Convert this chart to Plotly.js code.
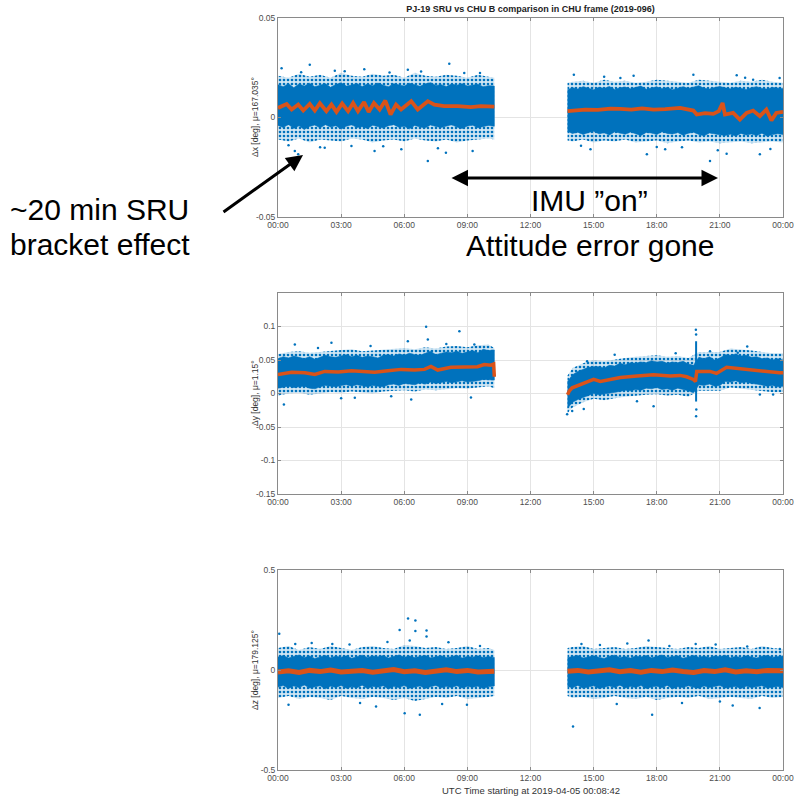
<!DOCTYPE html>
<html><head><meta charset="utf-8">
<script src="https://cdn.plot.ly/plotly-3.0.1.min.js"></script>
<style>html,body{margin:0;padding:0;background:#fff}</style>
</head><body><div id="chart" style="width:794px;height:797px"></div>
<script>
// ---------- axis ticks ----------
const hourTicks = [0,3,6,9,12,15,18,21,24];
const hourLabels = ['00:00','03:00','06:00','09:00','12:00','15:00','18:00','21:00','00:00'];
const yTicksX = [-0.05,0,0.05], yLabelsX = ['-0.05','0','0.05'];
const yTicksY = [-0.15,-0.1,-0.05,0,0.05,0.1], yLabelsY = ['-0.15','-0.1','-0.05','0','0.05','0.1'];
const yTicksZ = [-0.5,0,0.5], yLabelsZ = ['-0.5','0','0.5'];

// ---------- sample times (hours since start) ----------
const tA = [0,0.25,0.5,0.75,1,1.25,1.5,1.75,2,2.25,2.5,2.75,3,3.25,3.5,3.75,4,4.25,4.5,4.75,5,5.25,5.5,5.75,6,6.25,6.5,6.75,7,7.25,7.5,7.75,8,8.25,8.5,8.75,9,9.25,9.5,9.75,10,10.28];
const tB = [13.76,14,14.25,14.5,14.75,15,15.25,15.5,15.75,16,16.25,16.5,16.75,17,17.25,17.5,17.75,18,18.25,18.5,18.75,19,19.25,19.5,19.75,20,20.25,20.5,20.75,21,21.25,21.5,21.75,22,22.25,22.5,22.75,23,23.25,23.5,23.75,24];
const tAc = [0,0.5,1,1.5,2,2.5,3,3.5,4,4.5,5,5.5,6,6.5,7,7.5,8,8.5,9,9.5,10,10.28];
const tBc = [13.76,14,14.5,15,15.5,16,16.5,17,17.5,18,18.5,19,19.5,20,20.5,21,21.5,22,22.5,23,23.5,24];

// ---------- Δx panel ----------
const xCoreUpA = [0.0165,0.0155,0.017,0.0150,0.0168,0.0158,0.0172,0.0155,0.0162,0.0170,0.0152,0.0166,0.0174,0.0158,0.0163,0.0171,0.0156,0.0168,0.0160,0.0173,0.0162,0.0155,0.0170,0.0164,0.0158,0.0172,0.0166,0.0157,0.0169,0.0175,0.0161,0.0165,0.0156,0.0168,0.0162,0.0170,0.0158,0.0163,0.0167,0.0155,0.0160,0.0158];
const xCoreLoA = [-0.0040,-0.0050,-0.0035,-0.0055,-0.0042,-0.0060,-0.0045,-0.0038,-0.0052,-0.0036,-0.0048,-0.0041,-0.0058,-0.0044,-0.0037,-0.0050,-0.0046,-0.0055,-0.0039,-0.0047,-0.0053,-0.0041,-0.0036,-0.0049,-0.0044,-0.0057,-0.0040,-0.0048,-0.0052,-0.0038,-0.0045,-0.0050,-0.0042,-0.0037,-0.0048,-0.0055,-0.0043,-0.0039,-0.0051,-0.0046,-0.0040,-0.0044];
const xFrUpA = [0.021,0.020,0.022,0.0205,0.0215,0.020,0.0225,0.021,0.0205,0.022,0.021,0.0215,0.020,0.0225,0.021,0.0205,0.0215,0.021,0.020,0.0215,0.0205,0.020];
const xFrLoA = [-0.011,-0.012,-0.0105,-0.0125,-0.011,-0.0115,-0.012,-0.0105,-0.011,-0.0125,-0.0115,-0.011,-0.012,-0.0105,-0.0115,-0.012,-0.011,-0.0125,-0.0115,-0.011,-0.0105,-0.011];
const xCoreUpB = [0.0140,0.0150,0.0143,0.0155,0.0147,0.0139,0.0152,0.0146,0.0156,0.0141,0.0149,0.0153,0.0144,0.0150,0.0158,0.0142,0.0148,0.0154,0.0145,0.0151,0.0140,0.0149,0.0155,0.0146,0.0152,0.0160,0.0147,0.0143,0.0151,0.0156,0.0149,0.0144,0.0152,0.0147,0.0141,0.0150,0.0155,0.0146,0.0143,0.0151,0.0148,0.0145];
const xCoreLoB = [-0.0070,-0.0080,-0.0074,-0.0085,-0.0076,-0.0069,-0.0082,-0.0077,-0.0088,-0.0072,-0.0079,-0.0084,-0.0073,-0.0081,-0.0090,-0.0075,-0.0078,-0.0086,-0.0071,-0.0080,-0.0083,-0.0076,-0.0089,-0.0079,-0.0074,-0.0085,-0.0092,-0.0078,-0.0081,-0.0087,-0.0090,-0.0084,-0.0093,-0.0080,-0.0088,-0.0083,-0.0091,-0.0079,-0.0094,-0.0086,-0.0082,-0.0085];
const xFrUpB = [0.0175,0.018,0.0185,0.0175,0.019,0.018,0.0185,0.0175,0.018,0.019,0.0185,0.018,0.0175,0.019,0.0185,0.018,0.0175,0.0185,0.018,0.019,0.018,0.0175];
const xFrLoB = [-0.0115,-0.012,-0.011,-0.0125,-0.0115,-0.012,-0.011,-0.0125,-0.012,-0.0115,-0.013,-0.012,-0.0115,-0.0125,-0.012,-0.013,-0.0125,-0.012,-0.013,-0.0125,-0.012,-0.0125];
const xMeanTA = [0,0.41,0.65,0.96,1.2,1.51,1.75,1.99,2.3,2.54,2.78,3.05,3.33,3.57,3.8,4.09,4.31,4.56,4.83,5.1,5.35,5.61,5.85,6.33,6.64,7.12,7.43,7.9,8.54,9.17,9.64,10.12,10.28];
const xMeanA = [0.0048,0.0068,0.0040,0.0065,0.0035,0.0068,0.0035,0.0072,0.0032,0.0065,0.0028,0.0070,0.0032,0.0073,0.0032,0.0077,0.0028,0.0073,0.0040,0.0085,0.0015,0.0065,0.0040,0.0082,0.0040,0.0082,0.0065,0.0057,0.0057,0.0052,0.0057,0.0053,0.0055];
const xMeanTB = [13.76,14.0,14.6,15.2,15.8,16.27,16.8,17.3,17.85,18.4,18.8,19.11,19.74,19.9,20.3,20.69,20.95,21.13,21.24,21.63,21.95,22.27,22.58,22.9,23.21,23.45,23.68,24];
const xMeanB = [0.0032,0.0035,0.0040,0.0038,0.0045,0.0043,0.0040,0.0046,0.0040,0.0042,0.0047,0.0048,0.0035,0.0015,0.0022,0.0018,0.0032,0.0073,0.0015,0.0023,-0.0010,0.0023,0.0035,0.0007,0.0040,-0.0015,0.0023,0.0028];
const xOutT = [0.17,0.80,0.96,1.51,2.22,3.17,3.49,4.59,5.86,6.17,7.12,7.98,8.14,8.85,9.25,1.1,2.7,4.1,5.3,6.8,9.6,0.5,2.0,5.0,7.6,14.06,14.85,16.27,17.53,18.4,19.74,20.53,21.32,22.58,22.9,23.84,15.5,16.9,19.2,20.9,22.2,23.4,14.4,18.0,21.8];
const xOutV = [0.0248,-0.0168,-0.0185,0.0265,-0.0152,0.0232,-0.0143,-0.0168,-0.0160,0.0240,-0.0218,-0.0177,0.0270,0.0223,-0.0168,0.0228,0.0235,0.0242,0.0226,0.0231,0.0224,-0.0140,-0.0150,-0.0145,-0.0155,0.0215,-0.0160,0.0198,-0.0185,-0.0160,0.0215,-0.0218,-0.0182,0.0190,-0.0185,0.0198,0.0205,0.0210,-0.0150,-0.0165,0.0200,-0.0158,-0.0142,-0.0148,0.0212];

// ---------- Δy panel ----------
const yCoreUpA = [0.052,0.055,0.053,0.056,0.054,0.052,0.055,0.051,0.054,0.057,0.055,0.054,0.056,0.058,0.055,0.057,0.054,0.056,0.055,0.053,0.057,0.058,0.056,0.059,0.057,0.060,0.058,0.057,0.060,0.063,0.058,0.060,0.062,0.061,0.063,0.060,0.062,0.064,0.061,0.066,0.064,0.065];
const yCoreLoA = [0.008,0.010,0.011,0.009,0.010,0.011,0.008,0.007,0.010,0.012,0.011,0.010,0.012,0.013,0.011,0.013,0.012,0.010,0.012,0.011,0.010,0.013,0.014,0.012,0.015,0.014,0.013,0.016,0.014,0.017,0.015,0.016,0.018,0.016,0.017,0.019,0.017,0.018,0.019,0.021,0.020,0.020];
const yFrUpA = [0.059,0.062,0.063,0.061,0.062,0.064,0.065,0.066,0.063,0.064,0.065,0.067,0.068,0.066,0.069,0.067,0.070,0.071,0.069,0.072,0.073,0.068];
const yFrLoA = [-0.003,0.000,0.001,-0.002,0.000,0.002,0.001,0.003,0.002,0.000,0.003,0.004,0.005,0.003,0.006,0.005,0.007,0.008,0.007,0.009,0.011,0.008];
const yCoreUpB = [0.018,0.028,0.033,0.036,0.039,0.040,0.040,0.038,0.042,0.041,0.045,0.043,0.046,0.045,0.047,0.046,0.049,0.047,0.048,0.045,0.047,0.046,0.048,0.044,0.042,0.054,0.052,0.055,0.050,0.053,0.058,0.057,0.059,0.056,0.057,0.054,0.055,0.052,0.053,0.050,0.052,0.050];
const yCoreLoB = [-0.022,-0.013,-0.009,-0.005,-0.003,0.000,-0.002,-0.001,0.001,0.002,0.003,0.005,0.004,0.006,0.005,0.008,0.007,0.009,0.006,0.007,0.005,0.008,0.006,0.004,0.001,0.013,0.012,0.014,0.011,0.012,0.018,0.017,0.019,0.016,0.017,0.015,0.014,0.013,0.011,0.012,0.010,0.011];
const yFrUpB = [0.027,0.038,0.045,0.050,0.048,0.051,0.053,0.055,0.056,0.057,0.055,0.056,0.053,0.062,0.062,0.062,0.067,0.066,0.064,0.062,0.060,0.060];
const yFrLoB = [-0.030,-0.021,-0.013,-0.008,-0.010,-0.007,-0.005,-0.003,-0.002,-0.001,-0.003,-0.002,-0.005,0.004,0.004,0.004,0.009,0.008,0.006,0.004,0.002,0.002];
const yMeanTA = [0,0.65,1.28,1.75,2.22,2.86,3.49,4.12,4.59,5.22,5.86,6.49,6.96,7.27,7.59,8.22,8.85,9.48,9.8,10.12,10.25,10.28];
const yMeanA = [0.0284,0.0318,0.0310,0.0284,0.0330,0.0320,0.0340,0.0330,0.0318,0.0340,0.0360,0.0350,0.0360,0.0405,0.0350,0.0390,0.0390,0.0400,0.0433,0.0423,0.0440,0.0250];
const yMeanTB = [13.76,13.85,13.98,14.53,15.0,15.32,16.27,17.06,17.85,18.64,19.11,19.42,19.74,19.84,19.9,20.53,20.84,21.32,21.95,22.9,23.84,24];
const yMeanB = [-0.002,0.004,0.0085,0.016,0.021,0.018,0.024,0.026,0.028,0.026,0.027,0.025,0.021,0.018,0.033,0.033,0.030,0.039,0.037,0.033,0.031,0.031];
const ySpikeT = [19.87,19.87];
const ySpikeV = [-0.012,0.078];
const yOutT = [0.28,0.80,2.54,3.65,5.38,6.17,6.33,7.04,7.12,8.62,9.17,9.33,1.9,4.4,8.0,3.0,13.74,13.98,14.53,14.69,17.06,17.85,20.53,21.85,22.9,23.53,16.0,18.9,22.3,19.86,19.87,19.88,19.87];
const yOutV = [-0.0164,0.073,0.0757,-0.0064,-0.004,0.078,-0.009,0.0995,0.0806,0.093,-0.006,0.073,0.068,0.071,0.074,-0.007,-0.031,-0.026,-0.023,0.048,-0.0115,-0.019,0.063,0.061,-0.0015,-0.0015,0.058,0.060,0.070,0.095,-0.034,-0.024,0.088];

// ---------- Δz panel ----------
const zCoreUpA = [0.065,0.072,0.060,0.068,0.075,0.062,0.070,0.058,0.066,0.073,0.061,0.069,0.064,0.071,0.059,0.067,0.074,0.063,0.070,0.066,0.072,0.060,0.068,0.075,0.064,0.070,0.062,0.069,0.073,0.061,0.067,0.071,0.063,0.066,0.074,0.060,0.068,0.064,0.071,0.062,0.067,0.063];
const zCoreLoA = [-0.085,-0.078,-0.092,-0.080,-0.088,-0.075,-0.090,-0.083,-0.079,-0.094,-0.081,-0.087,-0.077,-0.091,-0.084,-0.089,-0.076,-0.093,-0.082,-0.086,-0.079,-0.095,-0.083,-0.088,-0.078,-0.091,-0.085,-0.080,-0.092,-0.084,-0.077,-0.089,-0.083,-0.087,-0.079,-0.090,-0.082,-0.086,-0.081,-0.093,-0.084,-0.080];
const zFrUpA = [0.11,0.12,0.10,0.115,0.105,0.12,0.11,0.10,0.115,0.12,0.11,0.105,0.125,0.12,0.11,0.115,0.105,0.11,0.12,0.105,0.11,0.10];
const zFrLoA = [-0.14,-0.13,-0.145,-0.135,-0.14,-0.15,-0.13,-0.14,-0.145,-0.135,-0.14,-0.15,-0.14,-0.155,-0.145,-0.135,-0.14,-0.13,-0.145,-0.14,-0.135,-0.13];
const zCoreUpB = [0.062,0.068,0.073,0.060,0.066,0.071,0.064,0.058,0.069,0.074,0.063,0.067,0.060,0.070,0.065,0.072,0.061,0.068,0.075,0.063,0.066,0.071,0.059,0.067,0.073,0.064,0.069,0.062,0.070,0.066,0.074,0.061,0.068,0.063,0.071,0.065,0.060,0.069,0.072,0.064,0.067,0.070];
const zCoreLoB = [-0.082,-0.089,-0.077,-0.091,-0.084,-0.079,-0.093,-0.086,-0.080,-0.088,-0.076,-0.090,-0.083,-0.087,-0.078,-0.092,-0.085,-0.081,-0.089,-0.077,-0.094,-0.084,-0.088,-0.079,-0.086,-0.091,-0.080,-0.087,-0.083,-0.078,-0.090,-0.085,-0.082,-0.093,-0.081,-0.088,-0.084,-0.079,-0.090,-0.086,-0.082,-0.087];
const zFrUpB = [0.11,0.115,0.12,0.105,0.11,0.115,0.105,0.11,0.12,0.115,0.11,0.105,0.115,0.11,0.12,0.105,0.11,0.115,0.105,0.12,0.11,0.105];
const zFrLoB = [-0.13,-0.14,-0.135,-0.145,-0.14,-0.13,-0.14,-0.145,-0.135,-0.15,-0.14,-0.135,-0.14,-0.13,-0.145,-0.14,-0.135,-0.14,-0.145,-0.13,-0.14,-0.135];
const zMeanTA = [0,0.5,1,1.5,2,2.5,3,3.5,4,4.5,5,5.5,6,6.5,7,7.5,8,8.5,9,9.5,10,10.28];
const zMeanA = [-0.010,-0.004,-0.012,-0.002,-0.008,0.000,-0.010,-0.006,-0.003,-0.011,-0.005,0.002,-0.009,-0.004,-0.012,-0.003,0.001,-0.008,-0.002,-0.010,-0.005,-0.006];
const zMeanTB = [13.76,14.25,14.75,15.25,15.75,16.25,16.75,17.25,17.75,18.25,18.75,19.25,19.75,20.25,20.75,21.25,21.75,22.25,22.75,23.25,23.75,24];
const zMeanB = [-0.006,-0.002,-0.010,-0.004,0.001,-0.009,-0.003,-0.011,-0.002,-0.008,0.000,-0.007,-0.012,-0.003,-0.008,0.001,-0.010,-0.004,-0.009,-0.002,-0.007,-0.004];
const zOutT = [0.06,0.50,0.82,2.58,4.66,5.78,6.02,6.18,6.26,6.53,6.53,6.74,7.06,7.06,8.1,8.98,1.6,3.4,5.2,9.6,3.9,7.8,14.02,14.42,17.61,17.78,19.85,21.61,22.89,23.85,15.3,16.6,18.6,20.8,22.3,16.1,19.2,21.0];
const zOutV = [0.181,-0.174,0.13,0.13,-0.182,0.20,-0.216,0.257,0.148,0.248,0.195,-0.224,0.198,0.167,0.139,-0.174,0.135,0.128,0.14,0.12,-0.165,-0.17,-0.283,0.13,0.148,-0.224,0.13,-0.177,-0.19,0.105,0.125,0.132,0.12,0.128,0.118,-0.17,-0.165,-0.158];

// ---------- build ----------
const BLUE = '#0072BD', ORANGE = '#D95319';
function band(t, up, lo, ax) {
  return {x: t.concat(t.slice().reverse()), y: up.concat(lo.slice().reverse()),
    type:'scatter', mode:'lines', fill:'toself', fillcolor: BLUE,
    line:{width:0.6, color: BLUE}, xaxis:'x'+ax, yaxis:'y'+ax, hoverinfo:'skip'};
}
function halo(t, up, lo, ax) {
  return {x: t.concat(t.slice().reverse()), y: up.concat(lo.slice().reverse()),
    type:'scatter', mode:'lines', fill:'toself', fillcolor:'rgba(0,114,189,0.18)',
    fillpattern:{shape:'.', fgcolor: BLUE, bgcolor:'rgba(0,114,189,0.18)', size:4, solidity:0.35},
    line:{width:0, color:'rgba(0,0,0,0)'}, xaxis:'x'+ax, yaxis:'y'+ax, hoverinfo:'skip'};
}
function pts(t, v, ax) {
  return {x:t, y:v, type:'scatter', mode:'markers', marker:{size:2.5, color:BLUE},
    xaxis:'x'+ax, yaxis:'y'+ax, hoverinfo:'skip'};
}
function mean(t, v, ax, w) {
  return {x:t, y:v, type:'scatter', mode:'lines', line:{width:w, color:ORANGE},
    xaxis:'x'+ax, yaxis:'y'+ax, hoverinfo:'skip'};
}
const traces = [
  halo(tAc, xFrUpA, xFrLoA, ''), halo(tBc, xFrUpB, xFrLoB, ''),
  band(tA, xCoreUpA, xCoreLoA, ''), band(tB, xCoreUpB, xCoreLoB, ''),
  pts(xOutT, xOutV, ''), mean(xMeanTA, xMeanA, '', 3.8), mean(xMeanTB, xMeanB, '', 3.8),
  halo(tAc, yFrUpA, yFrLoA, '2'), halo(tBc, yFrUpB, yFrLoB, '2'),
  band(tA, yCoreUpA, yCoreLoA, '2'), band(tB, yCoreUpB, yCoreLoB, '2'),
  {x:ySpikeT, y:ySpikeV, type:'scatter', mode:'lines', line:{width:2,color:BLUE}, xaxis:'x2', yaxis:'y2', hoverinfo:'skip'},
  pts(yOutT, yOutV, '2'), mean(yMeanTA, yMeanA, '2', 3.5), mean(yMeanTB, yMeanB, '2', 3.5),
  halo(tAc, zFrUpA, zFrLoA, '3'), halo(tBc, zFrUpB, zFrLoB, '3'),
  band(tA, zCoreUpA, zCoreLoA, '3'), band(tB, zCoreUpB, zCoreLoB, '3'),
  pts(zOutT, zOutV, '3'), mean(zMeanTA, zMeanA, '3', 5), mean(zMeanTB, zMeanB, '3', 5)
];

const W = 794, H = 797;
const px = v => v / W, py = v => 1 - v / H;
const tickFont = {family:'Liberation Sans, Arial, sans-serif', size:8.5, color:'#4d4d4d'};
function xAx(anchor) {
  return {domain:[px(278), px(783)], anchor: anchor, range:[0,24], tickvals: hourTicks, ticktext: hourLabels,
    showgrid:true, gridcolor:'#e4e4e4', gridwidth:1, zeroline:false, showline:true, linecolor:'#8a8a8a', linewidth:1,
    mirror:'ticks', ticks:'inside', ticklen:3, tickcolor:'#8a8a8a', tickfont: tickFont, ticklabeloverflow:'allow', fixedrange:true};
}
function yAx(anchor, top, bottom, rng, tv, tt) {
  return {domain:[py(bottom), py(top)], anchor: anchor, range: rng, tickvals: tv, ticktext: tt,
    showgrid:true, gridcolor:'#e4e4e4', gridwidth:1, zeroline:false, showline:true, linecolor:'#8a8a8a', linewidth:1,
    mirror:'ticks', ticks:'inside', ticklen:3, tickcolor:'#8a8a8a', tickfont: tickFont, fixedrange:true};
}
const big = {family:'Liberation Sans, Arial, sans-serif', size:30, color:'#000'};
const small = {family:'Liberation Sans, Arial, sans-serif', size:8.5, color:'#333'};
const layout = {
  width: W, height: H, margin:{l:0,r:0,t:0,b:0}, showlegend:false,
  paper_bgcolor:'#fff', plot_bgcolor:'#fff',
  font:{family:'Liberation Sans, Arial, sans-serif'},
  title:{text:'<b>PJ-19 SRU vs CHU B comparison in CHU frame (2019-096)</b>', x: px(530.5), xanchor:'center', y: py(9), yanchor:'middle',
    font:{family:'Liberation Sans, Arial, sans-serif', size:9, color:'#222'}},
  xaxis: xAx('y'), yaxis: yAx('x', 18, 217, [-0.05,0.05], yTicksX, yLabelsX),
  xaxis2: xAx('y2'), yaxis2: yAx('x2', 293, 494, [-0.15,0.15], yTicksY, yLabelsY),
  xaxis3: xAx('y3'), yaxis3: yAx('x3', 570, 770, [-0.5,0.5], yTicksZ, yLabelsZ),
  annotations: [
    {xref:'paper', yref:'paper', x:px(255), y:py(117), text:'Δx [deg], μ=167.035°', textangle:-90, showarrow:false, font:small, xanchor:'center', yanchor:'middle'},
    {xref:'paper', yref:'paper', x:px(255), y:py(393), text:'Δy [deg], μ=1.15°', textangle:-90, showarrow:false, font:small, xanchor:'center', yanchor:'middle'},
    {xref:'paper', yref:'paper', x:px(255), y:py(670), text:'Δz [deg], μ=179.125°', textangle:-90, showarrow:false, font:small, xanchor:'center', yanchor:'middle'},
    {xref:'paper', yref:'paper', x:px(530.5), y:py(790), text:'UTC Time starting at 2019-04-05 00:08:42', showarrow:false,
      font:{family:'Liberation Sans, Arial, sans-serif', size:9.5, color:'#333'}, xanchor:'center', yanchor:'middle'},
    {xref:'paper', yref:'paper', x:px(589), y:py(200), text:'IMU ”on”', showarrow:false, font:big, xanchor:'center', yanchor:'middle'},
    {xref:'paper', yref:'paper', x:px(590), y:py(246), text:'Attitude error gone', showarrow:false, font:big, xanchor:'center', yanchor:'middle'},
    {xref:'paper', yref:'paper', x:px(8), y:py(209), text:'~20 min SRU', showarrow:false, font:big, xanchor:'left', yanchor:'middle'},
    {xref:'paper', yref:'paper', x:px(8), y:py(244), text:'bracket effect', showarrow:false, font:big, xanchor:'left', yanchor:'middle'},
    {xref:'paper', yref:'paper', x:px(718), y:py(178), ax:-268, ay:0, text:'', showarrow:true, arrowhead:2, arrowside:'end+start', arrowsize:1.1, arrowwidth:3, arrowcolor:'#000'},
    {xref:'paper', yref:'paper', x:px(303), y:py(155), ax:-81, ay:58, text:'', showarrow:true, arrowhead:2, arrowsize:1.1, arrowwidth:3, arrowcolor:'#000'}
  ]
};
Plotly.newPlot('chart', traces, layout, {staticPlot:true, displayModeBar:false});
</script></body></html>
